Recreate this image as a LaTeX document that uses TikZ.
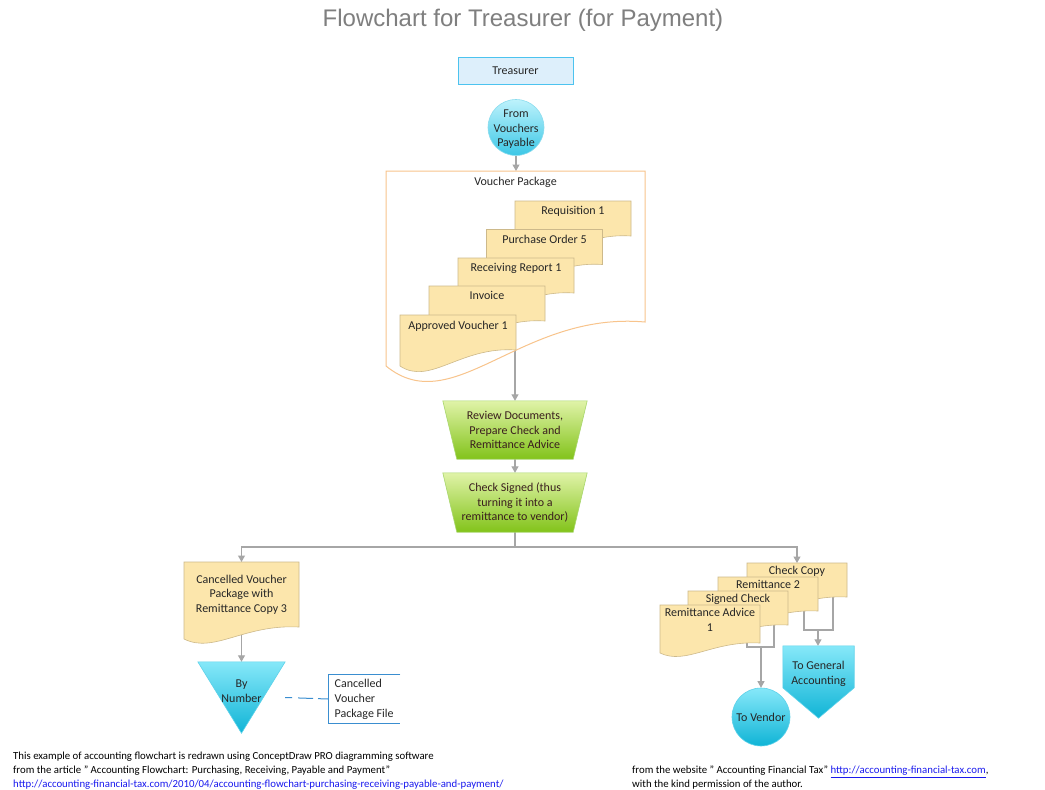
\documentclass[tikz,border=0pt]{standalone}
\usepackage{fontspec}
\setmainfont{Carlito}
\newfontfamily\titlefont{Liberation Sans}
\usetikzlibrary{arrows.meta,calc}
\pgfdeclarelayer{back}
\pgfdeclarelayer{shapes}
\pgfsetlayers{back,shapes,main}

\definecolor{cConn}{HTML}{A6A6A6}
\definecolor{cTitle}{HTML}{7F7F7F}
\definecolor{cTxt}{HTML}{262626}
\definecolor{cTrF}{HTML}{DDEFFB}
\definecolor{cTrB}{HTML}{4CC3EF}
\definecolor{cCirT}{HTML}{BDF2FC}
\definecolor{cCirB}{HTML}{3CC7E6}
\definecolor{cCirL}{HTML}{8ADCEE}
\definecolor{cDocF}{HTML}{FCE6AC}
\definecolor{cDocL}{HTML}{CDB98A}
\definecolor{cPkgL}{HTML}{F8C48C}
\definecolor{cGrT}{HTML}{E0F3A8}
\definecolor{cGrB}{HTML}{82C31A}
\definecolor{cGrL}{HTML}{A8D66C}
\definecolor{cCyT}{HTML}{86E8F9}
\definecolor{cCyB}{HTML}{10B4D6}
\definecolor{cCyL}{HTML}{5ED2EA}
\definecolor{cAnn}{HTML}{3A8ED0}
\definecolor{cLink}{HTML}{1A1AEE}
\definecolor{cGrTxt}{HTML}{3A1E1E}

\tikzset{
  every node/.style={font=\fontsize{12}{14.6}\selectfont, text=cTxt, inner sep=0pt},
  conn/.style={draw=cConn, line width=1.1pt},
  conarr/.style={conn, -{Triangle[width=7pt,length=6.5pt]}},
  doctext/.style={},
  doctext-shape/.style={fill=cDocF, draw=cDocL, line width=0.6pt},
  pkgtext/.style={},
  pkgtext-shape/.style={fill=white, draw=cPkgL, line width=1pt},
  greenshape/.style={top color=cGrT, bottom color=cGrB, draw=cGrL, line width=0.6pt},
  cyanshape/.style={top color=cCyT, bottom color=cCyB, draw=cCyL, line width=0.6pt},
  annline/.style={draw=cAnn, line width=1pt},
  foot/.style={font=\fontsize{10.8}{13.8}\selectfont, text=black, align=left, anchor=north west},
}

% #1 style, #2 name, #3 x0, #4 y0, #5 w, #6 right height, #7 wave depth, #8 inner ysep, #9 text
\newcommand\docnode[9]{%
  \node[#1, anchor=north, inner ysep=#8, align=center] (#2) at ({#3+#5/2},#4) {#9};
  \coordinate (#2-br) at ({#3+#5},{#4+#6});
  \begin{pgfonlayer}{shapes}
    \path[#1-shape] (#3,#4) -- ({#3+#5},#4) -- ({#3+#5},{#4+#6})
      .. controls ({#3+0.52*#5},{#4+#6-0.25*#7}) and ({#3+0.26*#5},{#4+#6+2.25*#7}) .. (#3,{#4+#6+#7}) -- cycle;
  \end{pgfonlayer}}

\begin{document}
\begin{tikzpicture}[x=1pt,y=-1pt]
\begin{pgfonlayer}{back}
  \fill[white] (0,0) rectangle (1045,790);
\end{pgfonlayer}
\useasboundingbox (0,0) rectangle (1045,790);

% title
\node[font=\titlefont\fontsize{24}{27}\selectfont, text=cTitle] (title) at (523,20) {Flowchart for Treasurer (for Payment)};

% treasurer
\node[draw=cTrB, fill=cTrF, line width=1pt, minimum width=115pt, minimum height=27pt] (treas) at (515.5,70.5) {Treasurer};

% from vouchers payable
\node[circle, draw=cCirL, line width=0.6pt, top color=cCirT, bottom color=cCirB, minimum size=56pt] (from) at (516,127.5) {};
\node[align=center] (fromt) at (516,129.5) {From\\Vouchers\\Payable};

% voucher package and documents
\docnode{pkgtext}{pkg}{386}{171}{259}{151}{44}{5.5pt}{Voucher Package}
\docnode{doctext}{req}{515}{201}{116}{35}{16}{5.5pt}{Requisition 1}
\docnode{doctext}{po}{486.5}{229.5}{116}{35}{16}{5.5pt}{Purchase Order 5}
\docnode{doctext}{rr}{458}{258}{116}{35}{16}{5.5pt}{Receiving Report 1}
\docnode{doctext}{inv}{429}{286}{116}{35}{16}{5.5pt}{Invoice}
\docnode{doctext}{av}{400}{315}{116}{35}{16}{5.5pt}{Approved Voucher 1}

% manual operations
\node[minimum width=144pt, minimum height=58pt, align=center, text=cGrTxt] (rev) at (515,430) {Review Documents,\\Prepare Check and\\Remittance Advice};
\node[minimum width=144pt, minimum height=59pt, align=center, text=cGrTxt] (chk) at (515,502.5) {Check Signed (thus\\turning it into a\\remittance to vendor)};
\begin{pgfonlayer}{shapes}
  \path[greenshape] (rev.north west) -- (rev.north east) -- ($(rev.south east)+(-14,0)$) -- ($(rev.south west)+(14,0)$) -- cycle;
  \path[greenshape] (chk.north west) -- (chk.north east) -- ($(chk.south east)+(-14,0)$) -- ($(chk.south west)+(14,0)$) -- cycle;
\end{pgfonlayer}

% left branch
\docnode{doctext}{cv}{184}{562}{115}{65}{12}{12.5pt}{Cancelled Voucher\\Package with\\Remittance Copy 3}
\node[minimum width=87pt, minimum height=71pt] (tri) at (241.5,697.5) {};
\node[align=center] (trit) at (241.5,691) {By\\Number};
\begin{pgfonlayer}{shapes}
  \path[cyanshape] (tri.north west) -- (tri.north east) -- (tri.south) -- cycle;
\end{pgfonlayer}
\node[anchor=west, minimum width=72pt, minimum height=48pt, inner xsep=6pt, align=left, font=\fontsize{12}{15}\selectfont] (ann) at (328,699) {Cancelled\\Voucher\\Package File};
\draw[annline] (ann.north east) -- (ann.north west) -- (ann.south west) -- (ann.south east);
\draw[annline, dash pattern=on 10pt off 5pt on 15pt off 6pt on 15pt off 6pt] (ann.west) -- (tri.east);

% right branch
\docnode{doctext}{cc}{747}{563}{100}{34}{10}{2.5pt}{Check Copy}
\docnode{doctext}{rm}{718}{577}{100}{34}{10}{3pt}{Remittance 2}
\docnode{doctext}{sc}{688}{591}{100}{34}{10}{3pt}{Signed Check}
\docnode{doctext}{ra}{660}{605}{100}{38}{10}{3pt}{Remittance Advice\\1}

\node[circle, draw=cCyL, line width=0.6pt, top color=cCyT, bottom color=cCyB, minimum size=58pt] (vendor) at (761,717) {To Vendor};
\node[minimum width=71pt, minimum height=72pt] (ga) at (818.5,682) {};
\node[align=center] (gat) at (818.5,674) {To General\\Accounting};
\begin{pgfonlayer}{shapes}
  \path[cyanshape] (ga.north west) -- (ga.north east) -- ($(ga.north east)+(0,42)$) -- (ga.south) -- ($(ga.north west)+(0,42)$) -- cycle;
\end{pgfonlayer}

% connectors
\coordinate (jn) at (515,547);
\coordinate (mA) at (761,647);
\coordinate (mB) at (818,630);
\begin{pgfonlayer}{back}
  \draw[conarr] (from) -- (from |- pkg.north);
  \draw[conarr] (rev.north |- pkg) -- (rev.north);
  \draw[conarr] (rev) -- (chk);
  \draw[conn] (chk) -- (jn);
  \draw[conarr] (jn) -| (cv.north);
  \draw[conarr] (jn) -| (cc.north);
  \draw[conarr] (cv) -- (tri);
  \draw[conn] ([xshift=-13pt,yshift=5pt]ra-br) |- (mA) -| ([xshift=-14pt,yshift=5pt]sc-br);
  \draw[conarr] (mA) -- (vendor);
  \draw[conn] ([xshift=-14pt,yshift=5pt]rm-br) |- (mB) -| ([xshift=-14pt,yshift=5pt]cc-br);
  \draw[conarr] (mB) -- (mB |- ga.north);
\end{pgfonlayer}

% footers
\node[foot] (foot1) at (13,752) {This example of accounting flowchart is redrawn using ConceptDraw PRO diagramming software\\from the article " Accounting Flowchart: Purchasing, Receiving, Payable and Payment"\\\textcolor{cLink}{\underline{http://accounting-financial-tax.com/2010/04/accounting-flowchart-purchasing-receiving-payable-and-payment/}}};
\node[foot] (foot2) at (632,766) {from the website " Accounting Financial Tax" \textcolor{cLink}{\underline{http://accounting-financial-tax.com}},\\with the kind permission of the author.};
\end{tikzpicture}
\end{document}
